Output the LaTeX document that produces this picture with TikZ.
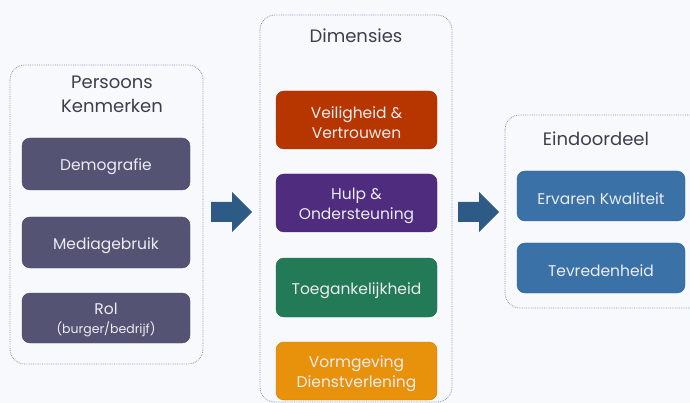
\documentclass[tikz,border=0pt]{standalone}
\usepackage{fontspec}
\setmainfont{Poppins}
\definecolor{bg}{HTML}{F8F9FC}
\definecolor{frame}{HTML}{7E98BC}
\definecolor{titletxt}{HTML}{3E3E4C}
\definecolor{boxtxt}{HTML}{ECECF2}
\definecolor{slate}{HTML}{555374}
\definecolor{rust}{HTML}{B73600}
\definecolor{plum}{HTML}{4F2C7E}
\definecolor{pine}{HTML}{237A57}
\definecolor{amber}{HTML}{E8920B}
\definecolor{steel}{HTML}{3A72A7}
\definecolor{arrowblue}{HTML}{2E5B86}
\tikzset{
  container/.style={draw=frame, densely dotted, line width=0.8pt, rounded corners=15pt},
  titlebox/.style={text=titletxt, font=\fontsize{18}{24}\selectfont, align=center, inner sep=0pt},
  itembox/.style={fill=#1, draw=#1!85!black, line width=0.4pt, rounded corners=8pt, inner sep=0pt},
  itemtext/.style={text=boxtxt, font=\fontsize{15.5}{20}\selectfont, align=center, inner sep=0pt},
  flowarrow/.style={fill=arrowblue}
}
\begin{document}
\begin{tikzpicture}[x=1pt,y=-1pt]
\useasboundingbox (0,0) rectangle (690,403);
\fill[bg] (0,0) rectangle (690,403);
% containers
\draw[container] (10,65) rectangle (203,364);
\draw[container] (260,15) rectangle (452,402);
\draw[container] (505,115) rectangle (705,308);
% titles
\node[titlebox] (t1) at (112,94) {Persoons\\Kenmerken};
\node[titlebox] (t2) at (356,36) {Dimensies};
\node[titlebox] (t3) at (596,139) {Eindoordeel};
% left items
\node[itembox=slate, minimum width=168pt, minimum height=52pt] (demo) at (106,164) {};
\node[itemtext] (demo-t) at ([yshift=-3pt]demo.center) {Demografie};
\node[itembox=slate, minimum width=168pt, minimum height=51pt] (media) at (106,242.5) {};
\node[itemtext] (media-t) at ([yshift=-3pt]media.center) {Mediagebruik};
\node[itembox=slate, minimum width=168pt, minimum height=50pt] (rol) at (106,318) {};
\node[itemtext] (rol-t) at ([yshift=-2pt]rol.center) {Rol\\[-1pt]{\fontsize{12.5}{15}\selectfont(burger/bedrijf)}};
% middle items
\node[itembox=rust, minimum width=161pt, minimum height=58pt] (veil) at (356.5,120) {};
\node[itemtext] (veil-t) at ([yshift=-3pt]veil.center) {Veiligheid \&\\Vertrouwen};
\node[itembox=plum, minimum width=161pt, minimum height=58pt] (hulp) at (356.5,203) {};
\node[itemtext] (hulp-t) at ([yshift=-3pt]hulp.center) {Hulp \&\\Ondersteuning};
\node[itembox=pine, minimum width=161pt, minimum height=59pt] (toeg) at (356.5,287.5) {};
\node[itemtext] (toeg-t) at ([yshift=-3pt]toeg.center) {Toegankelijkheid};
\node[itembox=amber, minimum width=161pt, minimum height=58pt] (vorm) at (356.5,371) {};
\node[itemtext] (vorm-t) at ([yshift=-3pt]vorm.center) {Vormgeving\\Dienstverlening};
% right items
\node[itembox=steel, minimum width=168pt, minimum height=50pt] (erv) at (601,196) {};
\node[itemtext] (erv-t) at ([yshift=-3pt]erv.center) {Ervaren Kwaliteit};
\node[itembox=steel, minimum width=168pt, minimum height=50pt] (tevr) at (601,268) {};
\node[itemtext] (tevr-t) at ([yshift=-3pt]tevr.center) {Tevredenheid};
% arrows
\fill[flowarrow] (211,202) -- (232,202) -- (232,192) -- (252,212) -- (232,232) -- (232,222) -- (211,222) -- cycle;
\fill[flowarrow] (458,202) -- (479,202) -- (479,192) -- (499,212) -- (479,232) -- (479,222) -- (458,222) -- cycle;
\end{tikzpicture}
\end{document}
